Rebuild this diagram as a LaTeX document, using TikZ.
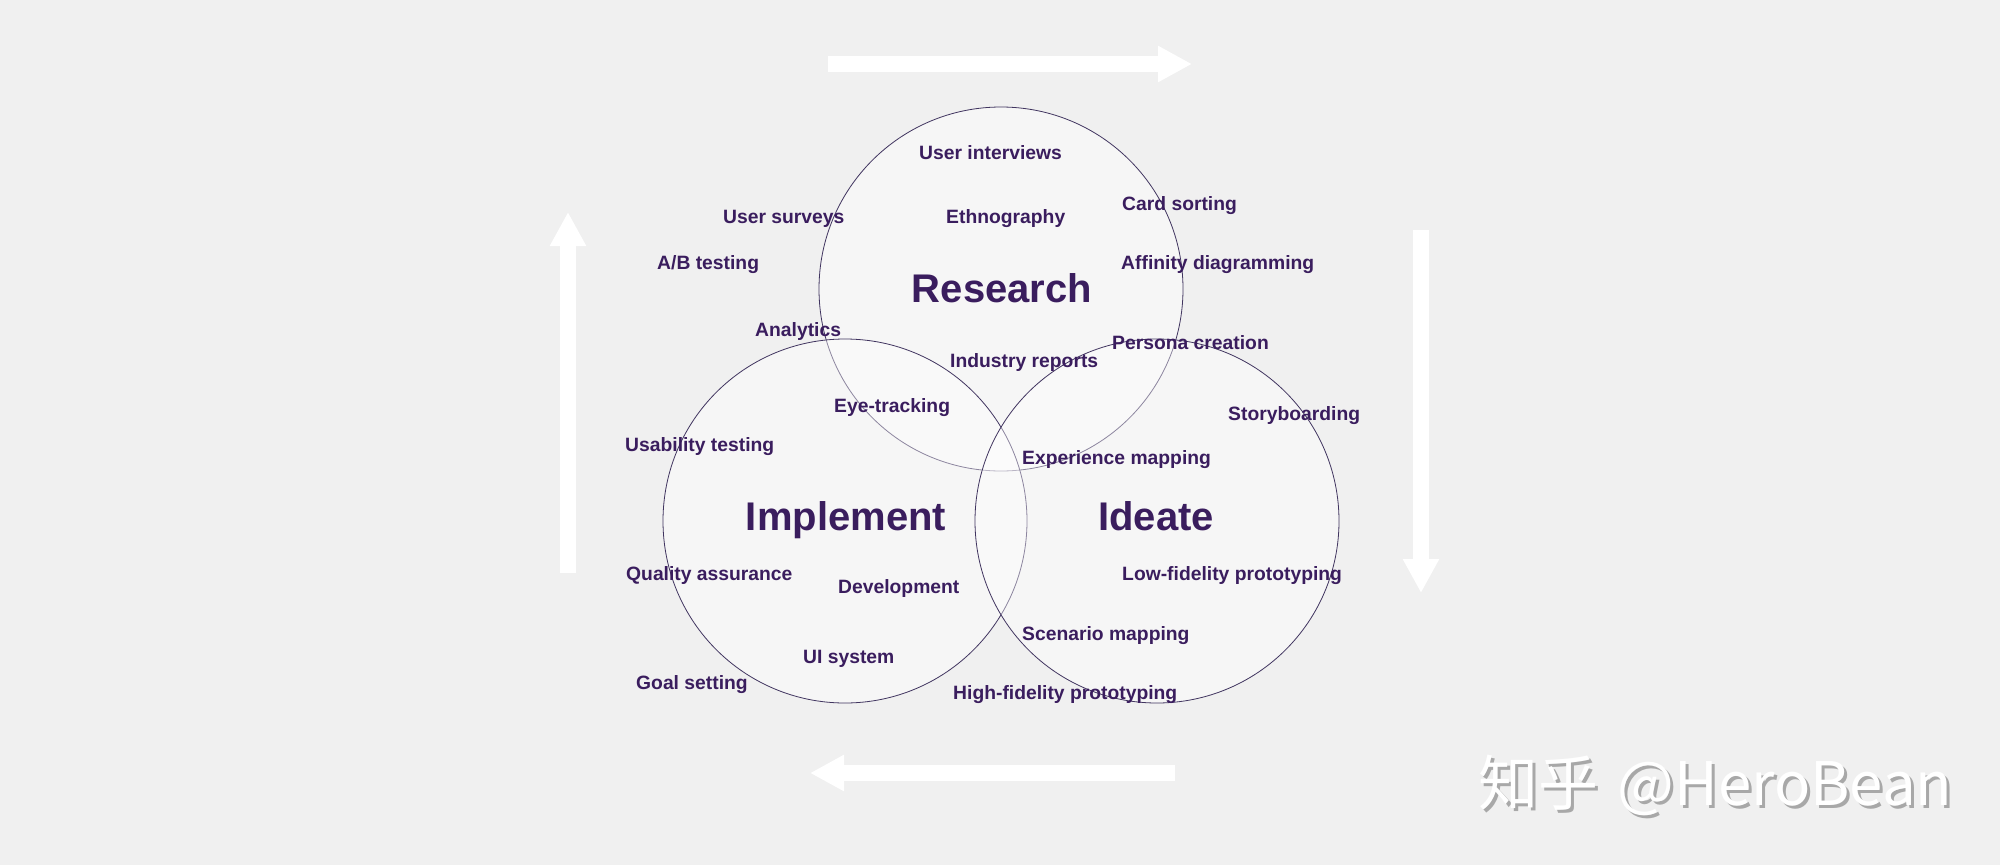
\documentclass[tikz,border=0pt]{standalone}
\usepackage{fontspec}
\setmainfont{Liberation Sans}
\newfontfamily\cjkfont{Noto Sans CJK SC}
\usetikzlibrary{arrows.meta}
\definecolor{ink}{HTML}{3A1D5E}
\definecolor{paper}{HTML}{F0F0F0}
\definecolor{rim}{HTML}{40345F}
\definecolor{shade}{HTML}{A8A8A8}
\begin{document}
\begin{tikzpicture}[x=1pt,y=-1pt,
    item/.style={anchor=base west,inner sep=0pt,text=ink,font=\bfseries\fontsize{19.3}{22}\selectfont},
    phase/.style={anchor=base,inner sep=0pt,text=ink,font=\bfseries\fontsize{40}{46}\selectfont},
    ring/.style={circle,draw=rim,line width=0.8pt,fill=white,fill opacity=0.4,minimum size=364pt,inner sep=0pt},
    flow/.style={white,line width=16pt,-{Triangle[length=34pt,width=34pt]}},
    stamp/.style={anchor=base west,inner sep=0pt,font=\cjkfont\fontsize{60}{66}\selectfont}]
            \fill [paper] (0,0) rectangle (2000,865);
            \draw [flow] (828,64) -- (1192,64);
            \draw [flow] (1421,230) -- (1421,593);
            \draw [flow] (1175,773) -- (810,773);
            \draw [flow] (568,573) -- (568,212);
            \node [ring] (research) at (1001,289) {};
            \node [ring] (implement) at (845,521) {};
            \node [ring] (ideate) at (1157,521) {};
            \node [phase] (researchlbl) at (1002,302) {Research};
            \node [phase] (implementlbl) at (846,530) {Implement};
            \node [phase] (ideatelbl) at (1156,530) {Ideate};
            \node [item] (interviews) at (919,159) {User interviews};
            \node [item] (surveys) at (723,223) {User surveys};
            \node [item] (ethno) at (946,223) {Ethnography};
            \node [item] (cards) at (1122,210) {Card sorting};
            \node [item] (abtest) at (657,269) {A/B testing};
            \node [item] (affinity) at (1121,269) {Affinity diagramming};
            \node [item] (analytics) at (755,336) {Analytics};
            \node [item] (persona) at (1112,349) {Persona creation};
            \node [item] (reports) at (950,367) {Industry reports};
            \node [item] (eyetrack) at (834,412) {Eye-tracking};
            \node [item] (story) at (1228,420) {Storyboarding};
            \node [item] (usability) at (625,451) {Usability testing};
            \node [item] (experience) at (1022,464) {Experience mapping};
            \node [item] (quality) at (626,580) {Quality assurance};
            \node [item] (lowfi) at (1122,580) {Low-fidelity prototyping};
            \node [item] (devel) at (838,593) {Development};
            \node [item] (scenario) at (1022,640) {Scenario mapping};
            \node [item] (uisys) at (803,663) {UI system};
            \node [item] (goals) at (636,689) {Goal setting};
            \node [item] (hifi) at (953,699) {High-fidelity prototyping};
            \node [stamp,text=shade] (stampshadow) at (1481,808) {知乎\hspace{6pt} @HeroBean};
            \node [stamp,text=white] (watermark) at (1478,805) {知乎\hspace{6pt} @HeroBean};
        \end{tikzpicture}
\end{document}
